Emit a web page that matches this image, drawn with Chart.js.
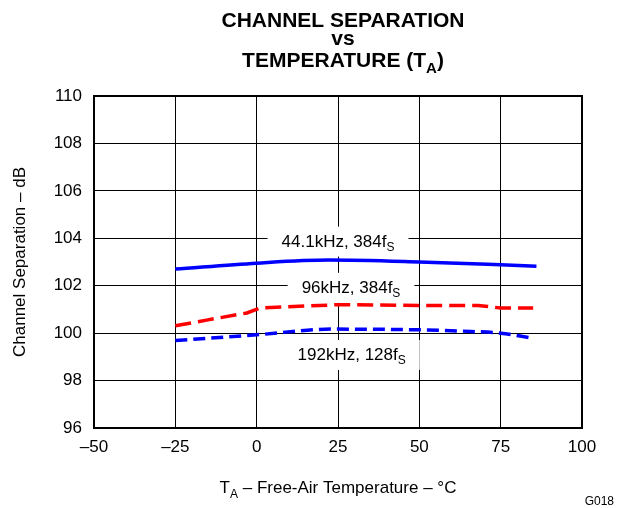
<!DOCTYPE html>
<html lang="en">
<head>
<meta charset="UTF-8" />
<title>Channel Separation vs Temperature</title>
<script src="https://cdn.jsdelivr.net/npm/chart.js"></script>
<style>
  html, body { margin: 0; padding: 0; background: #fff; }
  #wrap { width: 625px; height: 508px; }
</style>
</head>
<body>
<div id="wrap"><canvas id="chart" width="625" height="508"></canvas></div>
<script>
  // values (temperature in °C, separation in dB)
  const temp441 = [-25, 0, 22, 50, 75, 86];
  const sep441 = [102.70, 102.95, 103.08, 103.00, 102.88, 102.82];
  const temp96 = [-25, -15, -3, 1, 25, 50, 68, 75, 85];
  const sep96 = [100.31, 100.56, 100.85, 101.06, 101.20, 101.17, 101.17, 101.06, 101.06];
  const temp192 = [-25, 0, 23, 50, 66, 75, 84];
  const sep192 = [99.69, 99.93, 100.17, 100.14, 100.07, 100.00, 99.81];
  const xTicks = [-50, -25, 0, 25, 50, 75, 100];
  const yTicks = [96, 98, 100, 102, 104, 106, 108, 110];

  // curve notes: text, subscript, anchor (temp, dB) = centre / baseline
  const notes = [
    { text: '44.1kHz, 384f', sub: 'S', t: 25, db: 103.65 },
    { text: '96kHz, 384f', sub: 'S', t: 29, db: 101.70 },
    { text: '192kHz, 128f', sub: 'S', t: 29.2, db: 98.87 }
  ];

  const FONT = '"Liberation Sans", Arial, Helvetica, sans-serif';

  function pts(xs, ys) {
    return xs.map((x, i) => ({ x: x, y: ys[i] }));
  }

  // draw a run of [text, isSub] pieces centred on cx, baseline y
  function drawRuns(ctx, runs, cx, y, size, subSize, subDrop, weight) {
    const fMain = weight + ' ' + size + 'px ' + FONT;
    const fSub = weight + ' ' + subSize + 'px ' + FONT;
    let total = 0;
    runs.forEach(r => {
      ctx.font = r[1] ? fSub : fMain;
      total += ctx.measureText(r[0]).width;
    });
    let x = cx - total / 2;
    ctx.textAlign = 'left';
    ctx.textBaseline = 'alphabetic';
    runs.forEach(r => {
      ctx.font = r[1] ? fSub : fMain;
      ctx.fillText(r[0], x, r[1] ? y + subDrop : y);
      x += ctx.measureText(r[0]).width;
    });
    return total;
  }

  const decor = {
    id: 'decor',
    beforeDatasetsDraw(chart) {
      const ctx = chart.ctx;
      const area = chart.chartArea;
      const xs = chart.scales.x, ys = chart.scales.y;
      ctx.save();
      // curve notes with white boxes over the grid
      notes.forEach(n => {
        const cx = xs.getPixelForValue(n.t);
        const by = ys.getPixelForValue(n.db);
        ctx.font = '17px ' + FONT;
        let w = ctx.measureText(n.text).width;
        ctx.font = '12px ' + FONT;
        w += ctx.measureText(n.sub).width;
        ctx.fillStyle = '#fff';
        ctx.fillRect(cx - w / 2 - 14, by - 20, w + 28, 30);
        ctx.fillStyle = '#000';
        drawRuns(ctx, [[n.text, false], [n.sub, true]], cx, by, 17, 12, 4, 'normal');
      });
      // frame
      ctx.strokeStyle = '#000';
      ctx.lineWidth = 2;
      ctx.strokeRect(area.left, area.top, area.right - area.left, area.bottom - area.top);
      ctx.restore();
    },
    afterDraw(chart) {
      const ctx = chart.ctx;
      const area = chart.chartArea;
      ctx.save();
      ctx.fillStyle = '#000';
      // title
      drawRuns(ctx, [['CHANNEL SEPARATION', false]], 343, 27, 21, 15, 6, 'bold');
      drawRuns(ctx, [['vs', false]], 343, 45, 21, 15, 6, 'bold');
      drawRuns(ctx, [['TEMPERATURE (T', false], ['A', true], [')', false]], 343, 67, 21, 15, 6, 'bold');
      // x axis title
      drawRuns(ctx, [['T', false], ['A', true], [' \u2013 Free-Air Temperature \u2013 \u00B0C', false]],
        (area.left + area.right) / 2, 493, 17, 12, 5, 'normal');
      // y axis title
      ctx.translate(20, (area.top + area.bottom) / 2);
      ctx.rotate(-Math.PI / 2);
      ctx.font = '17px ' + FONT;
      ctx.textAlign = 'center';
      ctx.textBaseline = 'middle';
      ctx.fillText('Channel Separation \u2013 dB', 0, 0);
      ctx.restore();
      // figure id
      ctx.save();
      ctx.font = '12px ' + FONT;
      ctx.fillStyle = '#000';
      ctx.textAlign = 'right';
      ctx.textBaseline = 'alphabetic';
      ctx.fillText('G018', 614, 505);
      ctx.restore();
    }
  };

  new Chart(document.getElementById('chart'), {
    type: 'line',
    data: {
      datasets: [
        {
          label: '44.1kHz, 384fS',
          data: pts(temp441, sep441),
          borderColor: '#0000ff',
          borderWidth: 3.5,
          pointRadius: 0,
          cubicInterpolationMode: 'monotone',
          fill: false
        },
        {
          label: '96kHz, 384fS',
          data: pts(temp96, sep96),
          borderColor: '#ff0000',
          borderWidth: 3.5,
          borderDash: [16, 7],
          pointRadius: 0,
          tension: 0,
          fill: false
        },
        {
          label: '192kHz, 128fS',
          data: pts(temp192, sep192),
          borderColor: '#0000ff',
          borderWidth: 3.5,
          borderDash: [12, 6],
          pointRadius: 0,
          cubicInterpolationMode: 'monotone',
          fill: false
        }
      ]
    },
    options: {
      responsive: false,
      animation: false,
      devicePixelRatio: 1,
      layout: { padding: { top: 96, right: 43, left: 0, bottom: 0 } },
      plugins: { legend: { display: false }, tooltip: { enabled: false }, title: { display: false } },
      scales: {
        x: {
          type: 'linear',
          min: -50,
          max: 100,
          afterBuildTicks: s => { s.ticks = xTicks.map(v => ({ value: v })); },
          afterFit: s => { s.height = 80; },
          grid: { color: '#000', lineWidth: 1, drawTicks: false },
          border: { display: false },
          ticks: {
            color: '#000',
            padding: 9,
            maxRotation: 0,
            font: { size: 17, family: FONT },
            callback: v => String(v).replace('-', '\u2013')
          }
        },
        y: {
          min: 96,
          max: 110,
          afterBuildTicks: s => { s.ticks = yTicks.map(v => ({ value: v })); },
          afterFit: s => { s.width = 94; },
          grid: { color: '#000', lineWidth: 1, drawTicks: false },
          border: { display: false },
          ticks: {
            color: '#000',
            padding: 12,
            font: { size: 17, family: FONT }
          }
        }
      }
    },
    plugins: [decor]
  });
</script>
</body>
</html>
